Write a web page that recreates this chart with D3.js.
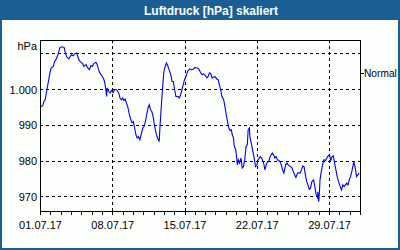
<!DOCTYPE html>
<html>
<head>
<meta charset="utf-8">
<script src="https://cdn.jsdelivr.net/npm/d3@7"></script>
<style>
  body { margin: 0; background: #fff; }
  svg { display: block; font-family: "Liberation Sans", Arial, sans-serif; }
  .axis text { font-size: 11px; fill: #000; }
  .axis path, .axis line { stroke: #000; shape-rendering: crispEdges; }
  .grid line { stroke: #000; stroke-dasharray: 3,3; shape-rendering: crispEdges; }
</style>
</head>
<body>
<script>
"use strict";

// hours since 01.07.2017 00:00 and air pressure (hPa, scaled)
var hours = [
  2, 6, 9, 12, 16, 19, 23, 26, 31, 34, 37, 40, 43, 46, 51, 56, 59, 62, 67, 70,
  73, 77, 81, 85, 88, 91, 95, 99, 102, 107, 111, 115, 118, 122, 125, 130, 133, 136, 139, 142,
  147, 150, 152, 155, 156, 160, 163, 166, 170, 173, 178, 183, 186, 189, 192, 195, 198, 201, 204, 207,
  211, 214, 217, 220, 223, 226, 229, 232, 235, 239, 242, 245, 248, 251, 254, 257, 260, 263, 266, 269,
  272, 276, 277, 279, 282, 285, 288, 291, 294, 297, 300, 304, 307, 310, 313, 316, 321, 324, 327, 330,
  333, 336, 341, 343, 348, 352, 357, 360, 366, 369, 374, 377, 380, 385, 388, 391, 394, 397, 400, 405,
  408, 411, 414, 417, 420, 423, 427, 430, 433, 436, 439, 442, 445, 447, 450, 451, 455, 456, 459, 461,
  464, 467, 468, 470, 473, 476, 479, 482, 484, 487, 488, 492, 495, 498, 501, 504, 507, 512, 515, 520,
  523, 526, 529, 532, 535, 540, 543, 546, 549, 552, 555, 558, 561, 564, 567, 571, 574, 577, 580, 583,
  586, 589, 592, 595, 599, 602, 605, 608, 611, 614, 617, 620, 623, 626, 629, 632, 636, 639, 642, 645,
  646, 648, 650, 651, 654, 657, 660, 664, 667, 670, 673, 676, 679, 682, 685, 688, 691, 694, 698, 701,
  704, 707, 710, 713, 716, 719, 722, 725, 729, 730, 733, 736, 739, 742
];

var pressure = [
  995.1, 995.3, 996.5, 997.0, 999.8, 1001.7, 1004.5, 1005.9, 1006.3, 1007.7, 1008.2, 1009.0, 1010.1, 1011.5, 1011.8, 1011.6, 1010.1, 1009.0, 1008.4, 1009.0,
  1009.6, 1009.3, 1009.9, 1010.1, 1009.1, 1008.0, 1007.5, 1007.1, 1006.3, 1006.8, 1005.9, 1005.4, 1006.5, 1006.3, 1007.1, 1007.5, 1006.8, 1005.4, 1004.5, 1004.0,
  1003.1, 1002.1, 1000.7, 997.9, 1000.3, 999.3, 998.9, 999.6, 999.0, 999.8, 999.8, 998.9, 997.5, 997.0, 997.5, 996.8, 997.2, 996.1, 995.1, 993.3,
  991.4, 990.6, 990.9, 989.1, 987.2, 986.3, 986.7, 985.8, 987.2, 989.1, 989.5, 990.9, 992.8, 994.7, 995.6, 994.2, 993.7, 992.3, 990.0, 988.1,
  986.7, 985.6, 985.3, 989.5, 995.1, 1000.3, 1004.9, 1006.3, 1007.3, 1006.5, 1005.4, 1004.0, 1002.1, 1002.1, 999.8, 997.9, 997.9, 997.5, 998.4, 999.8,
  1001.2, 1002.6, 1004.0, 1004.9, 1005.6, 1005.4, 1005.6, 1006.0, 1005.9, 1005.6, 1004.5, 1004.0, 1004.3, 1003.7, 1003.1, 1003.5, 1004.5, 1004.3, 1003.1, 1003.4,
  1003.4, 1002.8, 1002.6, 1001.2, 999.8, 997.9, 997.0, 995.1, 992.8, 990.9, 989.1, 988.4, 988.6, 987.2, 986.3, 984.4, 983.0, 982.1, 978.8, 980.2,
  979.3, 980.7, 980.2, 977.9, 978.3, 980.2, 983.9, 984.4, 988.6, 989.1, 986.7, 984.4, 982.5, 980.7, 978.3, 978.6, 980.2, 981.1, 980.7, 979.3,
  977.4, 978.8, 979.7, 979.7, 981.1, 982.1, 981.6, 980.7, 981.1, 980.2, 980.0, 979.7, 978.8, 977.4, 976.5, 978.8, 979.3, 978.8, 978.5, 978.3,
  977.9, 976.9, 976.0, 975.3, 976.5, 976.6, 976.5, 977.4, 978.5, 978.3, 976.0, 974.1, 973.2, 972.0, 972.3, 974.1, 974.6, 972.7, 970.4, 969.7,
  971.3, 968.5, 971.8, 974.6, 976.9, 978.8, 980.2, 980.0, 980.7, 981.3, 981.6, 980.0, 981.1, 981.3, 979.3, 977.4, 975.5, 974.1, 972.7, 971.8,
  973.2, 972.7, 973.2, 973.7, 973.2, 974.6, 975.5, 976.9, 979.3, 979.5, 977.9, 975.5, 976.0, 976.5
];

var y_ticks = [970, 980, 990, 1000];
var grid_values = [970, 980, 990, 1000, 1010];
var normal_value = 1004.5;
var title = 'Luftdruck [hPa] skaliert';

var width = 400, height = 250;
var plot = {left: 40, right: 360, top: 40, bottom: 211};

var start = new Date(Date.UTC(2017, 6, 1));
var end = new Date(Date.UTC(2017, 7, 1));
var data = hours.map((h, i) => ({date: new Date(start.getTime() + h * 3600e3), value: pressure[i]}));

var de = d3.formatLocale({decimal: ',', thousands: '.', grouping: [3], currency: ['', ' €']});

var svg = d3.select('body').append('svg')
  .attr('width', width)
  .attr('height', height);

// frame -----------------------------------------------------
svg.append('rect')
  .attr('width', width).attr('height', height)
  .attr('fill', '#1b5e94');
svg.append('rect')
  .attr('x', 2).attr('y', 20)
  .attr('width', width - 4).attr('height', height - 22)
  .attr('fill', '#fcfefc');

svg.append('text')
  .attr('x', 211).attr('y', 14.5)
  .attr('text-anchor', 'middle')
  .attr('fill', '#fff')
  .style('font-weight', 'bold')
  .style('font-size', '12px')
  .text(title);

// scales ----------------------------------------------------
var x = d3.scaleUtc()
  .domain([start, end])
  .range([plot.left, plot.right]);

var y = d3.scaleLinear()
  .domain([965.9, 1013.7])
  .range([plot.bottom, plot.top]);

// gridlines
var grid = svg.append('g').attr('class', 'grid');

grid.selectAll('.h').data(grid_values).enter()
  .append('line')
  .attr('x1', plot.left).attr('x2', plot.right)
  .attr('y1', d => Math.round(y(d)) + 0.5)
  .attr('y2', d => Math.round(y(d)) + 0.5);

var weeks = d3.utcDay.every(7).range(start, end).slice(1);
grid.selectAll('.v').data(weeks).enter()
  .append('line')
  .attr('y1', plot.top).attr('y2', plot.bottom)
  .attr('x1', d => Math.round(x(d)) + 0.5)
  .attr('x2', d => Math.round(x(d)) + 0.5);

// line
var line = d3.line()
  .x(d => x(d.date))
  .y(d => y(d.value));

svg.append('path')
  .datum(data)
  .attr('fill', 'none')
  .attr('stroke', '#0000f0')
  .attr('stroke-width', 1.1)
  .attr('d', line);

// box
svg.append('rect')
  .attr('x', plot.left + 0.5).attr('y', plot.top + 0.5)
  .attr('width', plot.right - plot.left).attr('height', plot.bottom - plot.top)
  .attr('fill', 'none')
  .attr('stroke', '#000')
  .style('shape-rendering', 'crispEdges');

// axes ------------------------------------------------------
var axis_x = d3.axisBottom(x)
  .tickValues(d3.utcDay.every(7).range(start, end))
  .tickFormat(d3.utcFormat('%d.%m.%y'))
  .tickSize(0)
  .tickPadding(10);

svg.append('g')
  .attr('class', 'axis')
  .attr('transform', `translate(0, ${plot.bottom + 0.5})`)
  .call(axis_x)
  .call(g => g.select('.domain').remove());

// daily ticks
svg.append('g')
  .attr('class', 'axis')
  .selectAll('line')
  .data(d3.utcDay.range(start, d3.utcDay.offset(end, 1)))
  .enter().append('line')
  .attr('x1', d => Math.round(x(d)) + 0.5)
  .attr('x2', d => Math.round(x(d)) + 0.5)
  .attr('y1', plot.bottom)
  .attr('y2', plot.bottom + 4);

var axis_y = d3.axisLeft(y)
  .tickValues(y_ticks)
  .tickFormat(de.format(',d'))
  .tickSize(0)
  .tickPadding(3);

svg.append('g')
  .attr('class', 'axis')
  .attr('transform', `translate(${plot.left}, 0.5)`)
  .call(axis_y)
  .call(g => g.select('.domain').remove());

svg.append('text')
  .attr('class', 'axis')
  .attr('x', plot.left - 3)
  .attr('y', y(1010) - 3)
  .attr('text-anchor', 'end')
  .style('font-size', '11px')
  .text('hPa');

// normal marker on the right
var axis_normal = d3.axisRight(y)
  .tickValues([normal_value])
  .tickFormat(() => 'Normal')
  .tickSize(3)
  .tickPadding(0);

svg.append('g')
  .attr('class', 'axis')
  .attr('transform', `translate(${plot.right + 1}, 0.5)`)
  .call(axis_normal)
  .call(g => g.select('.domain').remove())
  .call(g => g.selectAll('text').style('font-size', '10.2px'));
</script>
</body>
</html>
